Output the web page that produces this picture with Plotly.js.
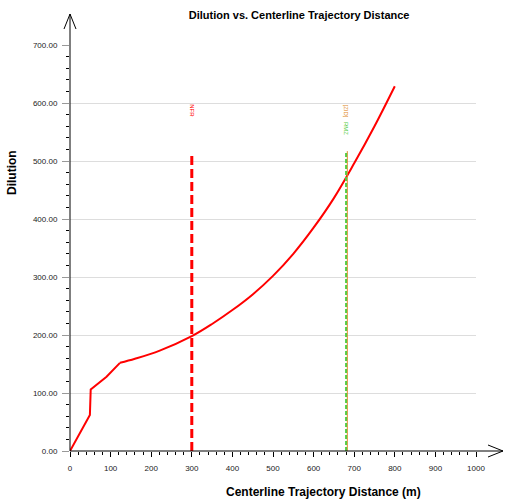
<!DOCTYPE html>
<html>
<head>
<meta charset="utf-8">
<script src="https://cdn.plot.ly/plotly-3.0.1.min.js"></script>
<style>html,body{margin:0;padding:0;background:#fff;}#chart{width:505px;height:502px;}</style>
</head>
<body>
<div id="chart"></div>
<script>
// Data
const distance = [0, 49, 51, 90, 123, 160, 221, 300, 350, 400, 450, 500, 550, 600, 650, 700, 750, 800];
const dilution = [0, 62, 106, 128, 152, 159, 173, 198, 219, 243, 270, 302, 340, 385, 436, 496, 560, 629];

const markerNames = ["NFR", "RMZ", "[ZID]"];
const markerX = [300, 680, 683];
const markerTop = [510, 515, 517];
const markerColors = ["#ff0000", "#55cc44", "#e08a2a"];

const titleText = "Dilution vs. Centerline Trajectory Distance";
const xTitle = "Centerline Trajectory Distance (m)";
const yTitle = "Dilution";

const splitAt = 4; // near-field part drawn straight, far-field part smooth

const traces = [
  {x: distance.slice(0, splitAt + 1), y: dilution.slice(0, splitAt + 1), type: "scatter", mode: "lines",
   line: {color: "#ff0000", width: 2}},
  {x: distance.slice(splitAt), y: dilution.slice(splitAt), type: "scatter", mode: "lines",
   line: {color: "#ff0000", width: 2, shape: "spline", smoothing: 1}},
  {x: [markerX[0], markerX[0]], y: [0, markerTop[0]], type: "scatter", mode: "lines",
   line: {color: markerColors[0], width: 3, dash: "9px,4px"}},
  {x: [markerX[2], markerX[2]], y: [0, markerTop[2]], type: "scatter", mode: "lines",
   line: {color: markerColors[2], width: 1}},
  {x: [markerX[1], markerX[1]], y: [0, markerTop[1]], type: "scatter", mode: "lines",
   line: {color: markerColors[1], width: 2, dash: "4px,2px"}}
];

const W = 406, H = 406;
function px(p) { return (p - 70) / W; }
function py(p) { return (451 - p) / H; }

const layout = {
  width: 505, height: 502, autosize: false,
  margin: {l: 70, r: 29, t: 45, b: 51, pad: 0},
  paper_bgcolor: "#fff", plot_bgcolor: "#fff",
  showlegend: false,
  font: {family: "Liberation Sans, Arial, sans-serif", size: 8, color: "#222"},
  title: {text: "<b>" + titleText + "</b>", font: {size: 11, color: "#000", family: "Liberation Sans, Arial, sans-serif"},
          x: 285/505, xanchor: "center", xref: "paper", y: 1 - 15/502, yanchor: "middle"},
  xaxis: {range: [0, 1000], tickvals: [0,100,200,300,400,500,600,700,800,900,1000],
          ticks: "outside", ticklen: 5, tickcolor: "#000", tickwidth: 1,
          minor: {dtick: 20, ticks: "outside", ticklen: 3, tickcolor: "#000", showgrid: false},
          showgrid: false, zeroline: false, showline: false, ticklabelstandoff: 4,
          tickfont: {size: 8, color: "#222"}, fixedrange: true},
  yaxis: {range: [0, 700], tickvals: [0,100,200,300,400,500,600,700], tickformat: ".2f",
          ticks: "outside", ticklen: 7, tickcolor: "#999", tickwidth: 1,
          minor: {dtick: 20, ticks: "outside", ticklen: 3, tickcolor: "#000", showgrid: false},
          showgrid: true, gridcolor: "#dddddd", gridwidth: 1, zeroline: false, showline: false,
          ticklabelstandoff: 3, tickfont: {size: 8, color: "#222"}, fixedrange: true},
  shapes: [
    {type: "line", xref: "paper", yref: "paper", x0: 0, x1: 0, y0: 0, y1: py(14), line: {color: "#000", width: 1}},
    {type: "path", xref: "paper", yref: "paper",
     path: "M " + px(64) + " " + py(29) + " L " + px(70) + " " + py(14) + " L " + px(76) + " " + py(29),
     line: {color: "#000", width: 1}},
    {type: "line", xref: "paper", yref: "paper", x0: 0, x1: px(503), y0: 0, y1: 0, line: {color: "#000", width: 1}},
    {type: "path", xref: "paper", yref: "paper",
     path: "M " + px(488) + " " + py(445) + " L " + px(503) + " " + py(451) + " L " + px(488) + " " + py(457),
     line: {color: "#000", width: 1}}
  ],
  annotations: [
    {text: "<b>" + xTitle + "</b>", xref: "paper", yref: "paper", x: px(323), y: py(492),
     xanchor: "center", yanchor: "middle", showarrow: false, font: {size: 12, color: "#000"}},
    {text: "<b>" + yTitle + "</b>", xref: "paper", yref: "paper", x: px(12), y: py(173),
     xanchor: "center", yanchor: "middle", showarrow: false, textangle: -90, font: {size: 12, color: "#000"}},
    {text: markerNames[0], xref: "x", yref: "paper", x: markerX[0], y: py(111),
     xanchor: "center", yanchor: "middle", showarrow: false, textangle: 90, font: {size: 6, color: markerColors[0]}},
    {text: markerNames[2], xref: "x", yref: "paper", x: markerX[2] - 2, y: py(111),
     xanchor: "center", yanchor: "middle", showarrow: false, textangle: 90, font: {size: 6, color: markerColors[2]}},
    {text: markerNames[1], xref: "x", yref: "paper", x: markerX[1], y: py(128),
     xanchor: "center", yanchor: "middle", showarrow: false, textangle: 90, font: {size: 6, color: markerColors[1]}}
  ]
};

Plotly.newPlot("chart", traces, layout, {staticPlot: true, displayModeBar: false});
</script>
</body>
</html>
